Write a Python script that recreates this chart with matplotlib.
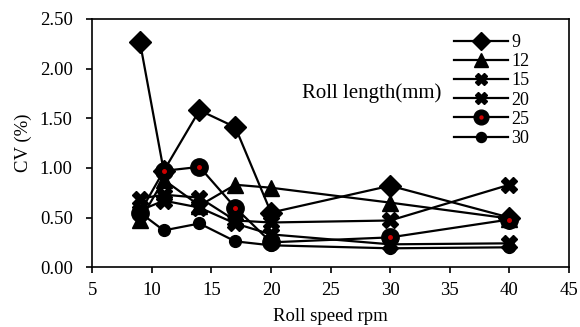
import matplotlib.pyplot as plt

plt.rcParams['font.family'] = ['Liberation Serif', 'DejaVu Serif']

speed = [9, 11, 14, 17, 20, 30, 40]
labels = ['9', '12', '15', '20', '25', '30']
cv_9 = [2.27, 0.97, 1.58, 1.41, 0.55, 0.82, 0.50]
cv_12 = [0.47, 0.88, 0.62, 0.83, 0.80, 0.65, 0.49]
cv_15 = [0.69, 0.73, 0.70, 0.47, 0.45, 0.47, 0.83]
cv_20 = [0.57, 0.67, 0.60, 0.44, 0.33, 0.23, 0.24]
cv_25 = [0.55, 0.97, 1.01, 0.60, 0.25, 0.30, 0.48]
cv_30 = [0.55, 0.37, 0.44, 0.26, 0.22, 0.19, 0.20]

fig = plt.figure(figsize=(5.8, 3.27), dpi=100)
ax = fig.add_axes([0.159, 0.183, 0.822, 0.759])

kw = dict(color='black', linewidth=1.6, markerfacecolor='black', markeredgecolor='black')
h9, = ax.plot(speed, cv_9, marker='D', markersize=11, **kw)
h12, = ax.plot(speed, cv_12, marker='^', markersize=12, **kw)
h15, = ax.plot(speed, cv_15, marker='X', markersize=11, **kw)
h20, = ax.plot(speed, cv_20, marker='X', markersize=11, **kw)
h25, = ax.plot(speed, cv_25, marker='o', markersize=12.5, **kw)
dot, = ax.plot(speed, cv_25, linestyle='none', marker='o', markersize=2.5,
               color='#d00000')
h30, = ax.plot(speed, cv_30, marker='o', markersize=8.5, **kw)

leg = ax.legend([h9, h12, h15, h20, (h25, dot), h30], labels,
                loc='upper right', bbox_to_anchor=(0.943, 0.99), frameon=False,
                fontsize=13, handlelength=3.0, handletextpad=0.15,
                labelspacing=0.12, borderpad=0.2, markerscale=0.85)
ax.text(0.44, 0.70, 'Roll length(mm)', transform=ax.transAxes, fontsize=15,
        ha='left', va='center')

ax.set_xlim(5, 45)
ax.set_ylim(0, 2.5)
ax.set_xticks(range(5, 46, 5))
ax.set_yticks([0, 0.5, 1.0, 1.5, 2.0, 2.5])
ax.set_yticklabels(['%.2f' % v for v in [0, 0.5, 1.0, 1.5, 2.0, 2.5]])
ax.tick_params(direction='out', length=4, width=1.2, labelsize=13.5)
ax.tick_params(axis='y', pad=10)
ax.tick_params(axis='x', pad=6.5)
for s in ax.spines.values():
    s.set_linewidth(1.2)
ax.set_xlabel('Roll speed rpm', fontsize=13.5, labelpad=7)
ax.set_ylabel('CV (%)', fontsize=13.5, labelpad=6)

plt.savefig('out.png', dpi=100)
